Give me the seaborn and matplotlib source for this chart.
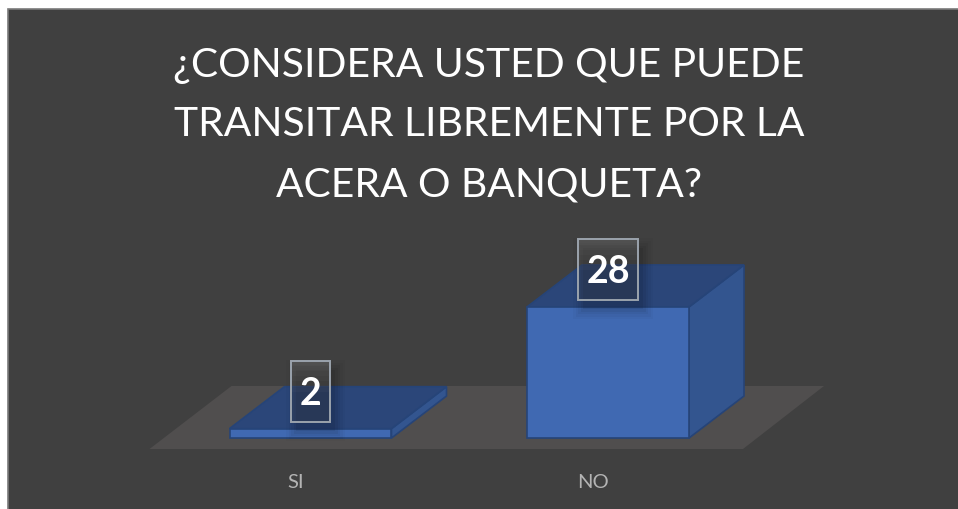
import matplotlib
matplotlib.use("Agg")
import matplotlib.pyplot as plt
import seaborn as sns
from matplotlib.patches import Polygon, Rectangle
from matplotlib.transforms import ScaledTranslation

categories = ["SI", "NO"]
values = [2, 28]
title = "¿CONSIDERA USTED QUE PUEDE\nTRANSITAR LIBREMENTE POR LA\nACERA O BANQUETA?"

W, H = 958, 510
BG = "#404040"
FLOOR = "#504e4e"
FRONT = "#4069b2"
TOP = "#2b4679"
SIDE = "#33558f"
EDGE = "#264478"

sns.set_theme(style="dark")
plt.rcParams["font.family"] = ["Lato", "DejaVu Sans"]

fig = plt.figure(figsize=(W / 100, H / 100), dpi=100, facecolor="white")
# panel behind everything, white margin only left and top, runs off the other two sides
fig.add_artist(Rectangle((8 / W, -0.02), (W + 20) / W, (H - 10) / H + 0.02, transform=fig.transFigure,
                         facecolor=BG, edgecolor="#7a7a7a", linewidth=1.2, zorder=-5))

ax = fig.add_axes([0, (H - 450) / H, 1, 450 / H], facecolor="none")
sns.barplot(x=categories, y=values, color=FRONT, saturation=1, width=0.5445, ax=ax, zorder=5)

# one category = 297.5 px, one unit = 4.68 px
ux = 1 / 297.5
uy = 1 / 4.68
x0 = -310.5 * ux
ax.set_xlim(x0, x0 + W * ux)
ax.set_ylim(-11 * uy, 439 * uy)

dx, dy = 55 * ux, 42 * uy
bars = list(ax.patches)

# floor
fl, fr = bars[0].get_x() - 80 * ux, bars[1].get_x() + bars[1].get_width() + 54 * ux
fb, ft = -11 * uy, 52 * uy
ax.add_patch(Polygon([(fl, fb), (fr, fb), (fr + 81 * ux, ft), (fl + 82 * ux, ft)],
                     facecolor=FLOOR, edgecolor="none", zorder=1))

for b, val in zip(bars, values):
    l, r = b.get_x(), b.get_x() + b.get_width()
    # back faces seen through the front
    ax.add_patch(Polygon([(l, 0), (l + dx, dy), (r + dx, dy), (r, 0)],
                         facecolor=TOP, edgecolor=EDGE, alpha=0.25, zorder=2))
    ax.add_patch(Polygon([(r, 0), (r + dx, dy), (r + dx, val + dy), (r, val)],
                         facecolor=SIDE, edgecolor=EDGE, linewidth=1.2, zorder=3))
    ax.add_patch(Polygon([(l, val), (l + dx, val + dy), (r + dx, val + dy), (r, val)],
                         facecolor=TOP, edgecolor=EDGE, linewidth=1.2, zorder=3))
    b.set_edgecolor(EDGE)
    b.set_linewidth(1.2)

    # data label: soft shadow, translucent box, number
    label = str(val)
    w = (21 * len(label) + 18) * ux
    h = 61 * uy
    cx = (l + r) / 2
    cy = val + 37 * uy
    for grow, a in [(20, 0.025), (15, 0.03), (10, 0.04), (5, 0.05), (0, 0.06)]:
        ax.add_patch(Rectangle((cx - w / 2 + (5 - grow / 2) * ux, cy - h / 2 - (9 + grow / 2) * uy),
                               w + grow * ux, h + grow * uy,
                               facecolor="black", edgecolor="none", alpha=a, zorder=6))
    ax.add_patch(Rectangle((cx - w / 2, cy - h / 2), w, h, facecolor="#404040",
                           edgecolor="none", alpha=0.25, zorder=7))
    for i in range(6):
        ax.add_patch(Rectangle((cx - w / 2, cy + h / 2 - (i + 1) * h / 12), w, h / 12,
                               facecolor="white", edgecolor="none", alpha=0.10 - i * 0.015, zorder=7))
    ax.add_patch(Rectangle((cx - w / 2, cy - h / 2), w, h, facecolor="none",
                           edgecolor="#9ba3ad", linewidth=1.4, zorder=8))
    ax.text(cx, cy - 1 * uy, label, color="white", fontsize=27, fontweight="bold",
            ha="center", va="center", zorder=9)

sns.despine(ax=ax, left=True, bottom=True)
ax.grid(False)
ax.set_yticks([])
ax.set_ylabel("")
ax.tick_params(axis="x", length=0, pad=17, labelsize=14.5, labelcolor="#b4b4b4")
# category labels sit left of the bar centres in the original
shift = ScaledTranslation(-15 / 100, 0, fig.dpi_scale_trans)
for t in ax.get_xticklabels():
    t.set_transform(t.get_transform() + shift)

fig.text(489 / W, 1 - 125 / H, title, color="white", fontsize=29.3, ha="center", va="center",
         linespacing=1.76)

fig.savefig("out.png", dpi=100, facecolor="white")
